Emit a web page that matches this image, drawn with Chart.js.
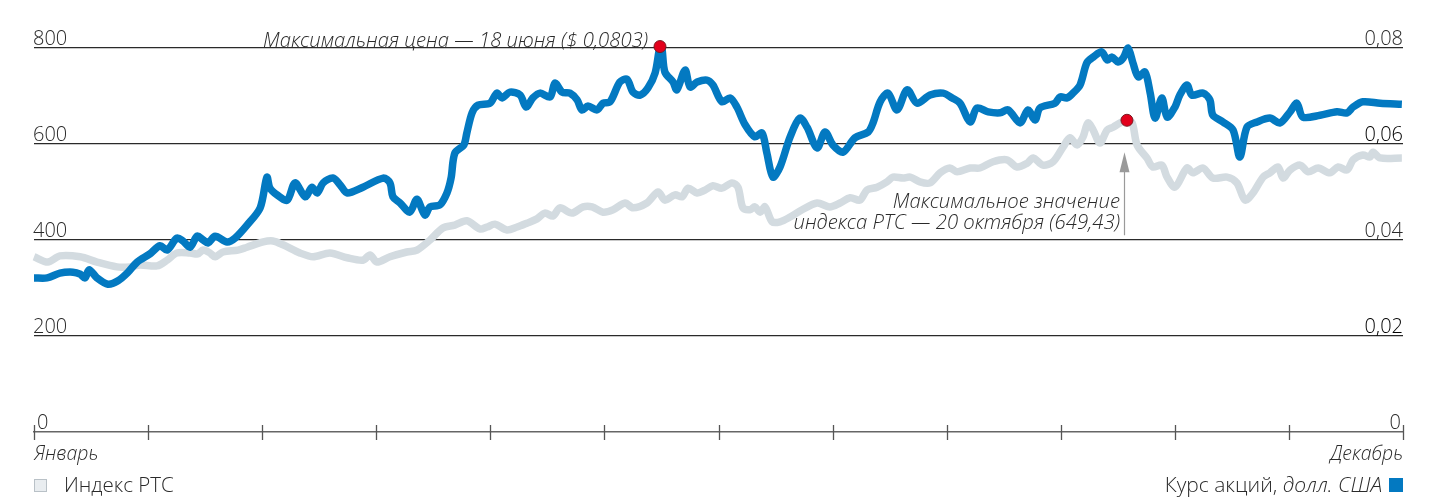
<!DOCTYPE html>
<html>
<head>
<meta charset="utf-8">
<script src="https://cdn.jsdelivr.net/npm/chart.js@4.4.1/dist/chart.umd.min.js"></script>
<style>
  html, body { margin: 0; padding: 0; background: #fff; }
  #wrap { width: 1438px; height: 497px; }
</style>
</head>
<body>
<div id="wrap"><canvas id="chart" width="1438" height="497"></canvas></div>
<script>
// --- данные: день года и значение ---
const priceDays = [0, 3.5, 6.9, 10.4, 12.3, 13.6, 14.7, 16.8, 19.7, 22.4, 25.1, 27.5, 30.9, 33.6, 35.5, 38.1, 39.7, 41.6, 43.5, 45.1,
  46.4, 48.3, 51.5, 53.6, 56.8, 60.3, 62.1, 62.9, 64.8, 67.5, 69.6, 72.3, 74.1, 75.5, 77.1, 79.7, 81.6, 83.5, 87.7, 93.1,
  94.9, 95.7, 97.6, 100.2, 102.1, 104.2, 105.6, 108.2, 110.1, 111.2, 112.2, 114.6, 115.4, 116.8, 118.4, 121.6, 123.4, 124.8, 126.9, 129.6,
  131.2, 133.0, 134.9, 137.6, 138.9, 140.8, 142.9, 144.8, 146.1, 147.7, 150.1, 151.7, 153.6, 156.2, 158.1, 159.7, 161.6, 163.7, 165.6, 166.9,
  167.4, 168.2, 170.4, 171.4, 173.6, 174.9, 176.8, 179.4, 181.0, 183.4, 185.6, 187.4, 189.6, 192.2, 194.1, 195.4, 197.0, 198.9, 201.6, 204.2,
  206.1, 208.8, 210.9, 213.0, 215.7, 218.9, 222.4, 223.7, 225.6, 227.7, 230.1, 232.8, 235.4, 238.9, 242.4, 244.8, 246.9, 249.6, 251.4, 254.4,
  257.6, 259.7, 262.9, 265.0, 266.9, 268.2, 272.2, 273.6, 275.4, 277.0, 278.9, 280.7, 282.4, 284.7, 286.1, 287.4, 289.0, 290.4, 291.7, 293.0,
  294.4, 296.2, 297.6, 298.9, 300.7, 302.1, 304.2, 305.5, 307.4, 308.7, 311.7, 313.5, 314.3, 317.0, 319.7, 321.5, 323.4, 326.1, 329.5, 332.2,
  334.9, 336.7, 338.3, 342.9, 347.4, 350.1, 351.7, 354.3, 358.9, 364.7];
const priceValues = [0.0321, 0.0321, 0.0331, 0.0333, 0.0329, 0.0321, 0.0338, 0.0321, 0.0308, 0.0315, 0.0333, 0.0354, 0.0371, 0.0388, 0.0379, 0.0404, 0.0398, 0.0385, 0.0408, 0.0400,
  0.0394, 0.0408, 0.0396, 0.0404, 0.0431, 0.0467, 0.0531, 0.0508, 0.0494, 0.0483, 0.0519, 0.0490, 0.0510, 0.0498, 0.0519, 0.0529, 0.0515, 0.0498, 0.0510, 0.0529,
  0.0519, 0.0490, 0.0477, 0.0458, 0.0485, 0.0452, 0.0469, 0.0473, 0.0498, 0.0529, 0.0581, 0.0598, 0.0623, 0.0665, 0.0681, 0.0685, 0.0706, 0.0696, 0.0708, 0.0702,
  0.0677, 0.0696, 0.0706, 0.0698, 0.0727, 0.0708, 0.0706, 0.0692, 0.0671, 0.0679, 0.0671, 0.0685, 0.0688, 0.0729, 0.0735, 0.0708, 0.0702, 0.0717, 0.0748, 0.0803,
  0.0800, 0.0750, 0.0729, 0.0713, 0.0754, 0.0719, 0.0729, 0.0733, 0.0723, 0.0688, 0.0696, 0.0677, 0.0640, 0.0615, 0.0623, 0.0581, 0.0531, 0.0552, 0.0615, 0.0654,
  0.0635, 0.0592, 0.0625, 0.0598, 0.0583, 0.0613, 0.0625, 0.0644, 0.0688, 0.0706, 0.0671, 0.0713, 0.0685, 0.0702, 0.0706, 0.0696, 0.0685, 0.0646, 0.0675, 0.0667,
  0.0665, 0.0671, 0.0644, 0.0671, 0.0650, 0.0675, 0.0685, 0.0698, 0.0696, 0.0706, 0.0723, 0.0769, 0.0781, 0.0792, 0.0775, 0.0781, 0.0771, 0.0779, 0.0800, 0.0769,
  0.0740, 0.0750, 0.0706, 0.0654, 0.0696, 0.0656, 0.0677, 0.0702, 0.0723, 0.0702, 0.0706, 0.0692, 0.0660, 0.0646, 0.0629, 0.0573, 0.0635, 0.0646, 0.0654, 0.0644,
  0.0667, 0.0685, 0.0656, 0.0660, 0.0667, 0.0665, 0.0677, 0.0688, 0.0685, 0.0683];

const rtsDays = [0, 3.7, 6.9, 12.3, 16.8, 22.1, 25.6, 28.3, 32.8, 35.5, 38.1, 41.6, 43.7, 45.1, 46.9, 48.3, 50.4, 54.4, 56.8, 61.1,
  63.7, 66.4, 70.9, 74.4, 78.9, 83.5, 87.7, 89.6, 91.4, 94.9, 99.4, 102.1, 105.6, 109.0, 112.2, 115.4, 118.9, 120.8, 122.9, 126.1,
  128.8, 131.4, 134.1, 136.2, 138.4, 140.2, 143.4, 146.4, 148.8, 151.7, 154.4, 157.6, 159.7, 163.4, 166.4, 168.2, 170.9, 172.8, 174.4, 176.8,
  178.9, 181.0, 183.4, 186.1, 187.7, 189.0, 190.9, 192.2, 193.6, 194.9, 196.8, 198.9, 201.6, 204.8, 208.8, 212.2, 214.9, 217.6, 220.2, 222.1,
  224.8, 227.4, 229.0, 231.7, 233.6, 236.2, 238.9, 241.6, 244.2, 246.1, 249.6, 252.2, 255.7, 259.4, 262.1, 264.8, 266.4, 269.0, 271.7, 274.4,
  276.2, 278.1, 279.7, 281.0, 282.4, 284.2, 286.1, 287.7, 289.6, 291.4, 292.8, 294.1, 296.7, 298.3, 300.7, 302.1, 304.2, 307.4, 309.0, 311.7,
  314.3, 318.1, 320.7, 322.9, 325.0, 327.7, 329.5, 331.7, 333.0, 334.9, 337.6, 339.7, 342.4, 345.5, 347.7, 350.1, 351.7, 354.3, 356.2, 357.0,
  358.9, 364.7];
const rtsValues = [365, 354, 367, 365, 354, 344, 344, 348, 346, 358, 373, 373, 371, 379, 373, 365, 375, 379, 385, 396,
  398, 390, 373, 365, 373, 363, 358, 369, 354, 365, 375, 379, 400, 425, 431, 440, 423, 427, 433, 421,
  427, 435, 444, 456, 450, 467, 456, 469, 469, 458, 463, 477, 467, 477, 500, 483, 494, 490, 508, 498,
  504, 513, 508, 519, 510, 467, 463, 469, 458, 469, 438, 438, 448, 463, 477, 469, 477, 488, 483, 504,
  510, 521, 531, 529, 531, 521, 519, 540, 550, 542, 550, 550, 563, 567, 552, 560, 571, 556, 563, 594,
  613, 598, 615, 644, 629, 602, 629, 635, 644, 649.43, 644, 598, 571, 552, 556, 531, 510, 550, 540, 550,
  529, 531, 519, 483, 498, 531, 540, 552, 529, 546, 556, 542, 550, 540, 552, 546, 567, 577, 573, 583,
  571, 571];

const leftTicks = [0, 200, 400, 600, 800];
const rightTicks = [0, 0.02, 0.04, 0.06, 0.08];
const monthTicks = [0, 1, 2, 3, 4, 5, 6, 7, 8, 9, 10, 11, 12].map(m => m * 365 / 12);
const monthLabels = ['Январь', 'Декабрь'];

const BLUE = '#0379c1';
const GRAY = '#d3dbe0';
const FONT = '"Open Sans", Lato, sans-serif';

const toPoints = (xs, ys) => xs.map((d, i) => ({ x: d, y: ys[i] }));
const iPriceMax = priceValues.indexOf(Math.max(...priceValues));
const iRtsMax = rtsValues.indexOf(Math.max(...rtsValues));

const fmtRight = v => v === 0 ? '0' : v.toFixed(2).replace('.', ',');

// подписи осей, засечки, легенда, выноски
const decor = {
  id: 'decor',
  afterDraw(chart) {
    const { ctx, chartArea: a } = chart;
    const x = chart.scales.x, yL = chart.scales.y, yR = chart.scales.y1;
    ctx.save();
    ctx.fillStyle = '#2a2a2a';
    ctx.font = '300 20px ' + FONT;
    ctx.textBaseline = 'alphabetic';

    leftTicks.forEach(v => {
      const py = yL.getPixelForValue(v);
      ctx.textAlign = 'left';
      ctx.fillText(String(v), v === 0 ? a.left + 3 : a.left - 1, py - 3);
    });
    rightTicks.forEach(v => {
      const py = yR.getPixelForValue(v);
      ctx.textAlign = 'right';
      ctx.fillStyle = (v === 0.06 || v === 0.02) ? '#000' : '#2a2a2a';
      ctx.fillText(fmtRight(v), v === 0 ? a.right - 2 : a.right, py - 3);
    });

    // засечки по месяцам
    ctx.strokeStyle = '#555';
    ctx.lineWidth = 1.3;
    monthTicks.forEach(d => {
      const px = Math.round(x.getPixelForValue(d)) + 0.5;
      ctx.beginPath();
      ctx.moveTo(px, a.bottom - 7);
      ctx.lineTo(px, a.bottom + 8);
      ctx.stroke();
    });

    ctx.fillStyle = '#2a2a2a';
    ctx.font = 'italic 300 19.5px ' + FONT;
    ctx.textAlign = 'left';
    ctx.fillText(monthLabels[0], a.left, a.bottom + 28);
    ctx.textAlign = 'right';
    ctx.fillText(monthLabels[1], a.right, a.bottom + 28);

    // легенда
    const ds = chart.data.datasets;
    const ly = a.bottom + 60;
    ctx.fillStyle = '#e9edf0';
    ctx.strokeStyle = '#b9c1c7';
    ctx.lineWidth = 1;
    ctx.fillRect(a.left, ly - 13, 13, 13);
    ctx.strokeRect(a.left + 0.5, ly - 12.5, 12, 12);
    ctx.fillStyle = '#2a2a2a';
    ctx.font = '300 20.5px ' + FONT;
    ctx.textAlign = 'left';
    ctx.fillText(ds[0].label, a.left + 30, ly);

    ctx.fillStyle = BLUE;
    ctx.fillRect(a.right - 14, ly - 14, 14, 14);
    ctx.textAlign = 'right';
    ctx.fillStyle = '#2a2a2a';
    ctx.font = 'italic 300 21px ' + FONT;
    const unit = 'долл. США';
    const unitW = ctx.measureText(unit).width;
    ctx.fillText(unit, a.right - 21, ly);
    ctx.font = '300 21px ' + FONT;
    ctx.fillText(ds[1].label + ', ', a.right - 21 - unitW, ly);

    // выноски к максимумам
    const pX = x.getPixelForValue(priceDays[iPriceMax]);
    const pY = yR.getPixelForValue(priceValues[iPriceMax]);
    ctx.font = 'italic 300 20.3px ' + FONT;
    ctx.textAlign = 'right';
    ctx.fillText('Максимальная цена — 18 июня ($ ' + priceValues[iPriceMax].toFixed(4).replace('.', ',') + ')', pX - 12, pY);

    const rX = x.getPixelForValue(rtsDays[iRtsMax]);
    const rY = yL.getPixelForValue(rtsValues[iRtsMax]);
    ctx.fillText('Максимальное значение', rX - 7, rY + 88);
    ctx.fillText('индекса РТС — 20 октября (' + rtsValues[iRtsMax].toFixed(2).replace('.', ',') + ')', rX - 7, rY + 109);

    const ax = Math.round(rX - 3) + 0.5;
    ctx.strokeStyle = '#9a9a9a';
    ctx.lineWidth = 1.2;
    ctx.beginPath();
    ctx.moveTo(ax, rY + 115);
    ctx.lineTo(ax, rY + 45);
    ctx.stroke();
    ctx.fillStyle = '#9a9a9a';
    ctx.beginPath();
    ctx.moveTo(ax, rY + 32);
    ctx.lineTo(ax - 5, rY + 52);
    ctx.lineTo(ax + 5, rY + 52);
    ctx.closePath();
    ctx.fill();
    ctx.restore();
  }
};

new Chart(document.getElementById('chart'), {
  type: 'line',
  data: {
    datasets: [
      {
        label: 'Индекс РТС',
        data: toPoints(rtsDays, rtsValues),
        yAxisID: 'y',
        borderColor: GRAY,
        borderWidth: 7.5,
        pointRadius: 0,
        tension: 0.3,
        clip: false,
        order: 3
      },
      {
        label: 'Курс акций',
        data: toPoints(priceDays, priceValues),
        yAxisID: 'y1',
        borderColor: BLUE,
        borderWidth: 7.5,
        pointRadius: 0,
        tension: 0.3,
        clip: false,
        order: 2
      },
      {
        label: 'max price',
        data: [{ x: priceDays[iPriceMax], y: priceValues[iPriceMax] }],
        yAxisID: 'y1',
        showLine: false,
        pointRadius: 6,
        backgroundColor: '#e3001b',
        borderColor: '#7a1a22',
        borderWidth: 1,
        clip: false,
        order: 1
      },
      {
        label: 'max rts',
        data: [{ x: rtsDays[iRtsMax], y: rtsValues[iRtsMax] }],
        yAxisID: 'y',
        showLine: false,
        pointRadius: 6,
        backgroundColor: '#e3001b',
        borderColor: '#7a1a22',
        borderWidth: 1,
        clip: false,
        order: 1
      }
    ]
  },
  options: {
    responsive: false,
    animation: false,
    layout: { padding: { left: 34, right: 35, top: 48, bottom: 65 } },
    plugins: { legend: { display: false }, tooltip: { enabled: false } },
    scales: {
      x: {
        type: 'linear',
        min: 0,
        max: 365,
        afterBuildTicks: s => { s.ticks = monthTicks.map(v => ({ value: v })); },
        ticks: { display: false },
        grid: { display: false, drawTicks: false },
        border: { display: true, color: '#666', width: 1.5 }
      },
      y: {
        min: 0,
        max: 800,
        afterBuildTicks: s => { s.ticks = leftTicks.map(v => ({ value: v })); },
        ticks: { display: false },
        grid: {
          drawTicks: false,
          color: c => c.tick && c.tick.value === 0 ? 'rgba(0,0,0,0)' : '#2a2a2a',
          lineWidth: 1.2
        },
        border: { display: false }
      },
      y1: {
        position: 'right',
        min: 0,
        max: 0.08,
        ticks: { display: false },
        grid: { display: false, drawTicks: false },
        border: { display: false }
      }
    }
  },
  plugins: [decor]
});
</script>
</body>
</html>
